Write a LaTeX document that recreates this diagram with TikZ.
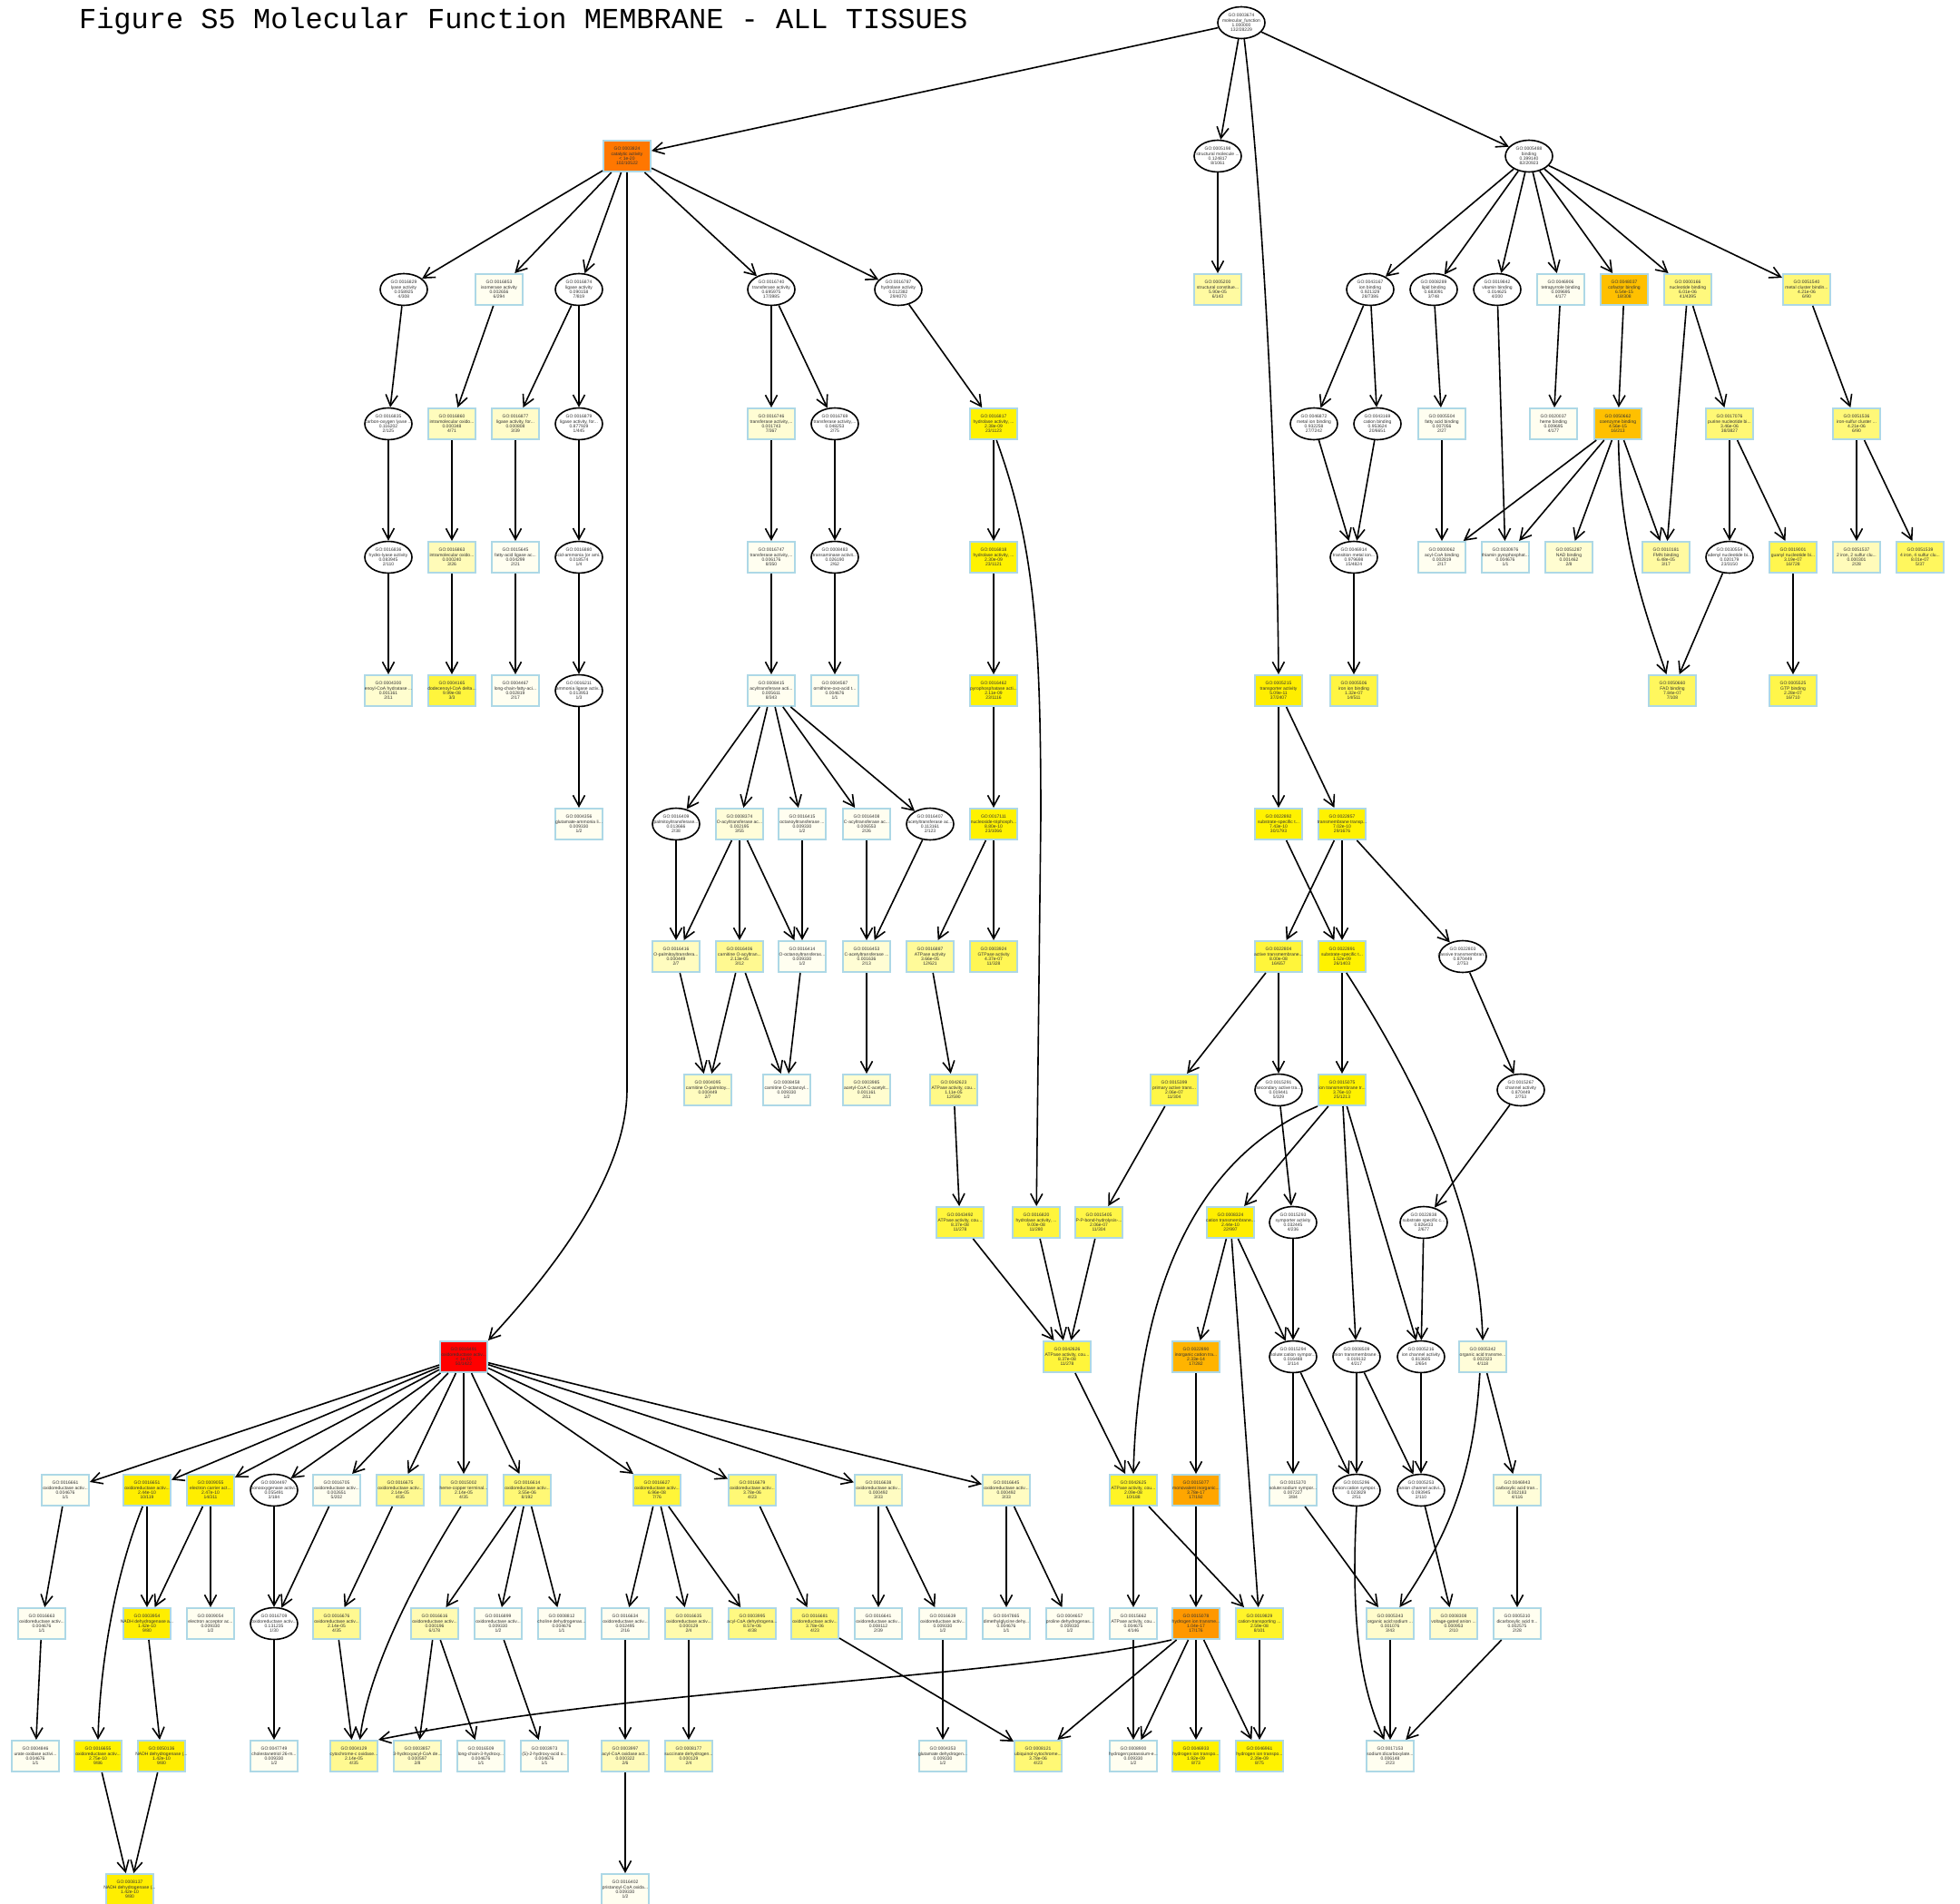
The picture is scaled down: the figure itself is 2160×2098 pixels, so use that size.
\documentclass[tikz,border=0pt]{standalone}
\usepackage{fontspec}
\setmainfont{Liberation Sans}
\newfontfamily\titlefont{Liberation Mono}
\usetikzlibrary{arrows.meta,shapes.geometric}

\definecolor{goblue}{HTML}{ADD8E6}
\definecolor{gogold}{HTML}{FFEE00}
\definecolor{goamber}{HTML}{FFC000}
\definecolor{goambertwo}{HTML}{FFB400}
\definecolor{gomono}{HTML}{FFA600}
\definecolor{gohydro}{HTML}{FF9800}
\definecolor{gocat}{HTML}{FF7700}
\definecolor{gored}{HTML}{FF0000}
\newcommand{\gofont}{\fontsize{2.5}{2.65}\selectfont}

\tikzset{
  gotext/.style={font=\gofont, align=center, text=black!80},
  gobox/.style={rectangle, draw=goblue, line width=1pt, fill=yellow!#1!white,
    minimum width=26pt, minimum height=17pt, inner xsep=-5pt, inner ysep=0pt, gotext},
  goell/.style={ellipse, draw=black, line width=0.8pt, fill=white,
    minimum width=26pt, minimum height=17.5pt, inner xsep=-4.5pt, inner ysep=0.2pt, gotext},
  goarrow/.style={-{Straight Barb[length=6pt,width=6.5pt]}, line width=0.8pt}
}

\begin{document}
\begin{tikzpicture}[x=0.5pt,y=-0.5pt]
\useasboundingbox (0,0) rectangle (2160,2098);
\fill[white] (0,0) rectangle (2160,2098);

\node[anchor=base west, font=\titlefont\fontsize{16}{18}\selectfont] (title) at (80,32) {Figure S5 Molecular Function MEMBRANE - ALL TISSUES};

% level 0 and 1
\node[goell] (n3674) at (1368,25) {GO:0003674\\molecular\_function\\1.000000\\132/28229};
\node[gobox=100, fill=gocat] (n3824) at (691,172) {GO:0003824\\catalytic activity\\< 1e-20\\102/10522};
\node[goell] (n5198) at (1342,172) {GO:0005198\\structural molecule ...\\0.124817\\8/1061};
\node[goell] (n5488) at (1685,172) {GO:0005488\\binding\\0.399140\\82/20923};

% level 2
\node[goell] (n16829) at (445,319) {GO:0016829\\lyase activity\\0.058925\\4/308};
\node[gobox=6] (n16853) at (550,319) {GO:0016853\\isomerase activity\\0.002656\\6/294};
\node[goell] (n16874) at (638,319) {GO:0016874\\ligase activity\\0.090158\\7/819};
\node[goell] (n16740) at (850,319) {GO:0016740\\transferase activity\\0.695975\\17/3985};
\node[goell] (n16787) at (990,319) {GO:0016787\\hydrolase activity\\0.012382\\29/4070};
\node[gobox=37] (n5200) at (1342,319) {GO:0005200\\structural constitue...\\5.90e-05\\6/143};
\node[goell] (n43167) at (1510,319) {GO:0043167\\ion binding\\0.921329\\28/7386};
\node[goell] (n8289) at (1580,319) {GO:0008289\\lipid binding\\0.683091\\3/748};
\node[goell] (n19842) at (1650,319) {GO:0019842\\vitamin binding\\0.014625\\4/200};
\node[gobox=6] (n46906) at (1720,319) {GO:0046906\\tetrapyrrole binding\\0.009695\\4/177};
\node[gobox=100, fill=goamber] (n48037) at (1790,319) {GO:0048037\\cofactor binding\\6.54e-15\\18/308};
\node[gobox=51] (n166) at (1860,319) {GO:0000166\\nucleotide binding\\6.01e-06\\41/4395};
\node[gobox=53] (n51540) at (1991,319) {GO:0051540\\metal cluster bindin...\\4.21e-06\\6/90};

% level 3
\node[goell] (n16835) at (428,467) {GO:0016835\\carbon-oxygen lyase ...\\0.116202\\2/125};
\node[gobox=26] (n16860) at (498,467) {GO:0016860\\intramolecular oxido...\\0.000348\\4/71};
\node[gobox=21] (n16877) at (568,467) {GO:0016877\\ligase activity, for...\\0.000808\\3/39};
\node[goell] (n16879) at (638,467) {GO:0016879\\ligase activity, for...\\0.877929\\1/445};
\node[gobox=17] (n16746) at (850,467) {GO:0016746\\transferase activity,...\\0.001743\\7/367};
\node[goell] (n16769) at (920,467) {GO:0016769\\transferase activity,...\\0.048253\\2/75};
\node[gobox=100] (n16817) at (1095,467) {GO:0016817\\hydrolase activity, ...\\2.38e-09\\23/1123};
\node[goell] (n46872) at (1448,467) {GO:0046872\\metal ion binding\\0.932258\\27/7242};
\node[goell] (n43169) at (1518,467) {GO:0043169\\cation binding\\0.953624\\20/6651};
\node[gobox=6] (n5504) at (1589,467) {GO:0005504\\fatty acid binding\\0.007056\\2/27};
\node[gobox=6] (n20037) at (1712,467) {GO:0020037\\heme binding\\0.009695\\4/177};
\node[gobox=100, fill=goamber] (n50662) at (1783,467) {GO:0050662\\coenzyme binding\\4.56e-15\\16/213};
\node[gobox=54] (n17076) at (1906,467) {GO:0017076\\purine nucleotide bi...\\3.46e-06\\38/3827};
\node[gobox=53] (n51536) at (2046,467) {GO:0051536\\iron-sulfur cluster ...\\4.21e-06\\6/90};

% level 4
\node[goell] (n16836) at (428,614) {GO:0016836\\hydro-lyase activity\\0.083945\\2/110};
\node[gobox=28] (n16863) at (498,614) {GO:0016863\\intramolecular oxido...\\0.000240\\3/26};
\node[gobox=6] (n15645) at (568,614) {GO:0015645\\fatty-acid ligase ac...\\0.004299\\2/21};
\node[goell] (n16880) at (638,614) {GO:0016880\\acid-ammonia (or ami...\\0.018574\\1/4};
\node[gobox=6] (n16747) at (850,614) {GO:0016747\\transferase activity,...\\0.006176\\8/350};
\node[goell] (n8483) at (920,614) {GO:0008483\\transaminase activit...\\0.026190\\2/62};
\node[gobox=100] (n16818) at (1095,614) {GO:0016818\\hydrolase activity, ...\\2.30e-09\\23/1121};
\node[goell] (n46914) at (1492,614) {GO:0046914\\transition metal ion...\\0.979698\\15/4824};
\node[gobox=6] (n62) at (1589,614) {GO:0000062\\acyl-CoA binding\\0.002819\\2/17};
\node[gobox=6] (n30976) at (1659,614) {GO:0030976\\thiamin pyrophosphat...\\0.004676\\1/1};
\node[gobox=18] (n51287) at (1729,614) {GO:0051287\\NAD binding\\0.001462\\2/8};
\node[gobox=37] (n10181) at (1836,614) {GO:0010181\\FMN binding\\6.48e-05\\3/17};
\node[goell] (n30554) at (1906,614) {GO:0030554\\adenyl nucleotide bi...\\0.020179\\23/3150};
\node[gobox=69] (n19001) at (1976,614) {GO:0019001\\guanyl nucleotide bi...\\3.19e-07\\16/728};
\node[gobox=27] (n51537) at (2046,614) {GO:0051537\\2 iron, 2 sulfur clu...\\0.000301\\2/28};
\node[gobox=63] (n51539) at (2116,614) {GO:0051539\\4 iron, 4 sulfur clu...\\8.01e-07\\5/37};

% level 5
\node[gobox=19] (n4300) at (428,761) {GO:0004300\\enoyl-CoA hydratase ...\\0.001161\\2/11};
\node[gobox=76] (n4165) at (498,761) {GO:0004165\\dodecenoyl-CoA delta...\\9.99e-08\\3/3};
\node[gobox=6] (n4467) at (568,761) {GO:0004467\\long-chain-fatty-aci...\\0.002819\\2/17};
\node[goell] (n16211) at (638,761) {GO:0016211\\ammonia ligase activ...\\0.013953\\1/3};
\node[gobox=6] (n8415) at (850,761) {GO:0008415\\acyltransferase acti...\\0.005611\\8/343};
\node[gobox=6] (n4587) at (920,761) {GO:0004587\\ornithine-oxo-acid t...\\0.004676\\1/1};
\node[gobox=100] (n16462) at (1095,761) {GO:0016462\\pyrophosphatase acti...\\2.11e-09\\23/1116};
\node[gobox=100, fill=gogold] (n5215) at (1409,761) {GO:0005215\\transporter activity\\5.09e-11\\37/2407};
\node[gobox=74] (n5506) at (1492,761) {GO:0005506\\iron ion binding\\1.32e-07\\14/511};
\node[gobox=63] (n50660) at (1843,761) {GO:0050660\\FAD binding\\7.84e-07\\7/108};
\node[gobox=71] (n5525) at (1976,761) {GO:0005525\\GTP binding\\2.28e-07\\16/710};

% level 6
\node[gobox=6] (n4356) at (638,908) {GO:0004356\\glutamate-ammonia li...\\0.009330\\1/2};
\node[goell] (n16409) at (745,908) {GO:0016409\\palmitoyltransferase...\\0.013666\\2/38};
\node[gobox=15] (n8374) at (815,908) {GO:0008374\\O-acyltransferase ac...\\0.002195\\3/55};
\node[gobox=6] (n16415) at (884,908) {GO:0016415\\octanoyltransferase ...\\0.009330\\1/2};
\node[gobox=6] (n16408) at (955,908) {GO:0016408\\C-acyltransferase ac...\\0.006553\\2/26};
\node[goell] (n16407) at (1025,908) {GO:0016407\\acetyltransferase ac...\\0.113161\\2/123};
\node[gobox=100] (n17111) at (1095,908) {GO:0017111\\nucleoside-triphosph...\\8.80e-10\\23/1066};
\node[gobox=100] (n22892) at (1409,908) {GO:0022892\\substrate-specific t...\\7.43e-10\\30/1793};
\node[gobox=100] (n22857) at (1479,908) {GO:0022857\\transmembrane transp...\\7.02e-10\\29/1676};

% level 7
\node[gobox=25] (n16416) at (745,1054) {GO:0016416\\O-palmitoyltransfera...\\0.000449\\2/7};
\node[gobox=43] (n16406) at (815,1054) {GO:0016406\\carnitine O-acyltran...\\2.13e-05\\3/12};
\node[gobox=6] (n16414) at (884,1054) {GO:0016414\\O-octanoyltransferas...\\0.009330\\1/2};
\node[gobox=17] (n16453) at (955,1054) {GO:0016453\\C-acetyltransferase ...\\0.001636\\2/13};
\node[gobox=40] (n16887) at (1025,1054) {GO:0016887\\ATPase activity\\3.66e-05\\12/621};
\node[gobox=67] (n3924) at (1095,1054) {GO:0003924\\GTPase activity\\4.37e-07\\11/328};
\node[gobox=77] (n22804) at (1409,1054) {GO:0022804\\active transmembrane...\\8.00e-08\\16/657};
\node[gobox=100] (n22891) at (1479,1054) {GO:0022891\\substrate-specific t...\\1.52e-09\\26/1403};
\node[goell] (n22803) at (1612,1054) {GO:0022803\\passive transmembran...\\0.870449\\2/753};

% level 8
\node[gobox=25] (n4095) at (780,1201) {GO:0004095\\carnitine O-palmitoy...\\0.000449\\2/7};
\node[gobox=6] (n8458) at (867,1201) {GO:0008458\\carnitine O-octanoyl...\\0.009330\\1/2};
\node[gobox=19] (n3985) at (955,1201) {GO:0003985\\acetyl-CoA C-acetylt...\\0.001161\\2/11};
\node[gobox=47] (n42623) at (1051,1201) {GO:0042623\\ATPase activity, cou...\\1.11e-05\\12/590};
\node[gobox=72] (n15399) at (1294,1201) {GO:0015399\\primary active trans...\\2.06e-07\\11/304};
\node[goell] (n15291) at (1409,1201) {GO:0015291\\secondary active tra...\\0.019441\\5/329};
\node[gobox=100] (n15075) at (1479,1201) {GO:0015075\\ion transmembrane tr...\\3.76e-10\\25/1213};
\node[goell] (n15267) at (1676,1201) {GO:0015267\\channel activity\\0.870449\\2/753};

% level 9
\node[gobox=77] (n43492) at (1058,1347) {GO:0043492\\ATPase activity, cou...\\8.37e-08\\11/278};
\node[gobox=77] (n16820) at (1142,1347) {GO:0016820\\hydrolase activity, ...\\9.00e-08\\11/280};
\node[gobox=72] (n15405) at (1211,1347) {GO:0015405\\P-P-bond-hydrolysis-...\\2.06e-07\\11/304};
\node[gobox=100, fill=gogold] (n8324) at (1356,1347) {GO:0008324\\cation transmembrane...\\2.44e-10\\22/997};
\node[goell] (n15293) at (1425,1347) {GO:0015293\\symporter activity\\0.032445\\4/236};
\node[goell] (n22838) at (1569,1347) {GO:0022838\\substrate specific c...\\0.826433\\2/677};

% level 10
\node[gobox=100, fill=gored] (n16491) at (511,1495) {GO:0016491\\oxidoreductase activ...\\< 1e-20\\50/1422};
\node[gobox=77] (n42626) at (1176,1495) {GO:0042626\\ATPase activity, cou...\\8.37e-08\\11/278};
\node[gobox=100, fill=goambertwo] (n22890) at (1318,1495) {GO:0022890\\inorganic cation tra...\\2.33e-14\\17/282};
\node[goell] (n15294) at (1425,1495) {GO:0015294\\solute:cation sympor...\\0.016488\\3/114};
\node[goell] (n8509) at (1495,1495) {GO:0008509\\anion transmembrane ...\\0.019132\\4/217};
\node[goell] (n5216) at (1566,1495) {GO:0005216\\ion channel activity\\0.813605\\2/654};
\node[gobox=15] (n5342) at (1634,1495) {GO:0005342\\organic acid transme...\\0.002323\\4/118};

% level 11
\node[gobox=6] (n16661) at (72,1642) {GO:0016661\\oxidoreductase activ...\\0.004676\\1/1};
\node[gobox=100, fill=gogold] (n16651) at (162,1642) {GO:0016651\\oxidoreductase activ...\\2.44e-10\\10/119};
\node[gobox=100, fill=gogold] (n9055) at (232,1642) {GO:0009055\\electron carrier act...\\2.47e-10\\14/311};
\node[goell] (n4497) at (302,1642) {GO:0004497\\monooxygenase activi...\\0.055491\\3/184};
\node[gobox=6] (n16705) at (371,1642) {GO:0016705\\oxidoreductase activ...\\0.002651\\5/202};
\node[gobox=43] (n16675) at (441,1642) {GO:0016675\\oxidoreductase activ...\\2.14e-05\\4/35};
\node[gobox=43] (n15002) at (511,1642) {GO:0015002\\heme-copper terminal...\\2.14e-05\\4/35};
\node[gobox=54] (n16614) at (581,1642) {GO:0016614\\oxidoreductase activ...\\3.55e-06\\8/192};
\node[gobox=78] (n16627) at (724,1642) {GO:0016627\\oxidoreductase activ...\\6.96e-08\\7/76};
\node[gobox=54] (n16679) at (829,1642) {GO:0016679\\oxidoreductase activ...\\3.78e-06\\4/23};
\node[gobox=24] (n16638) at (968,1642) {GO:0016638\\oxidoreductase activ...\\0.000492\\3/33};
\node[gobox=24] (n16645) at (1109,1642) {GO:0016645\\oxidoreductase activ...\\0.000492\\3/33};
\node[gobox=85] (n42625) at (1249,1642) {GO:0042625\\ATPase activity, cou...\\2.09e-08\\10/188};
\node[gobox=100, fill=gomono] (n15077) at (1318,1642) {GO:0015077\\monovalent inorganic...\\3.78e-17\\17/192};
\node[gobox=6] (n15370) at (1425,1642) {GO:0015370\\solute:sodium sympor...\\0.007227\\3/84};
\node[goell] (n15296) at (1495,1642) {GO:0015296\\anion:cation sympor...\\0.023829\\2/51};
\node[goell] (n5253) at (1566,1642) {GO:0005253\\anion channel activi...\\0.093945\\2/110};
\node[gobox=15] (n46943) at (1672,1642) {GO:0046943\\carboxylic acid tran...\\0.002183\\4/116};

% level 12
\node[gobox=6] (n16663) at (46,1789) {GO:0016663\\oxidoreductase activ...\\0.004676\\1/1};
\node[gobox=100, fill=gogold] (n3954) at (162,1789) {GO:0003954\\NADH dehydrogenase a...\\1.42e-10\\9/80};
\node[gobox=6] (n9054) at (232,1789) {GO:0009054\\electron acceptor ac...\\0.009330\\1/2};
\node[goell] (n16709) at (302,1789) {GO:0016709\\oxidoreductase activ...\\0.131235\\1/30};
\node[gobox=43] (n16676) at (371,1789) {GO:0016676\\oxidoreductase activ...\\2.14e-05\\4/35};
\node[gobox=30] (n16616) at (479,1789) {GO:0016616\\oxidoreductase activ...\\0.000196\\6/178};
\node[gobox=6] (n16899) at (549,1789) {GO:0016899\\oxidoreductase activ...\\0.009330\\1/2};
\node[gobox=6] (n8812) at (619,1789) {GO:0008812\\choline dehydrogenas...\\0.004676\\1/1};
\node[gobox=6] (n16634) at (689,1789) {GO:0016634\\oxidoreductase activ...\\0.002495\\2/16};
\node[gobox=32] (n16635) at (759,1789) {GO:0016635\\oxidoreductase activ...\\0.000129\\2/4};
\node[gobox=49] (n3995) at (829,1789) {GO:0003995\\acyl-CoA dehydrogena...\\8.57e-06\\4/38};
\node[gobox=54] (n16681) at (898,1789) {GO:0016681\\oxidoreductase activ...\\3.78e-06\\4/23};
\node[gobox=6] (n16641) at (968,1789) {GO:0016641\\oxidoreductase activ...\\0.008112\\2/39};
\node[gobox=6] (n16639) at (1039,1789) {GO:0016639\\oxidoreductase activ...\\0.009330\\1/2};
\node[gobox=6] (n47865) at (1109,1789) {GO:0047865\\dimethylglycine dehy...\\0.004676\\1/1};
\node[gobox=6] (n4657) at (1179,1789) {GO:0004657\\proline dehydrogenas...\\0.009330\\1/2};
\node[gobox=6] (n15662) at (1249,1789) {GO:0015662\\ATPase activity, cou...\\0.004675\\4/146};
\node[gobox=100, fill=gohydro] (n15078) at (1318,1789) {GO:0015078\\hydrogen ion transme...\\1.04e-17\\17/176};
\node[gobox=84] (n19829) at (1388,1789) {GO:0019829\\cation-transporting ...\\2.59e-08\\8/101};
\node[gobox=20] (n5343) at (1532,1789) {GO:0005343\\organic acid:sodium ...\\0.001076\\3/43};
\node[gobox=20] (n8308) at (1602,1789) {GO:0008308\\voltage-gated anion ...\\0.000953\\2/10};
\node[gobox=6] (n5310) at (1672,1789) {GO:0005310\\dicarboxylic acid tr...\\0.002575\\2/28};

% level 13
\node[gobox=6] (n4846) at (39,1935) {GO:0004846\\urate oxidase activi...\\0.004676\\1/1};
\node[gobox=100] (n16655) at (108,1935) {GO:0016655\\oxidoreductase activ...\\2.75e-10\\9/86};
\node[gobox=100, fill=gogold] (n50136) at (178,1935) {GO:0050136\\NADH dehydrogenase (...\\1.42e-10\\9/80};
\node[gobox=6] (n47749) at (302,1935) {GO:0047749\\cholestanetriol 26-m...\\0.009330\\1/2};
\node[gobox=43] (n4129) at (390,1935) {GO:0004129\\cytochrome-c oxidase...\\2.14e-05\\4/35};
\node[gobox=23] (n3857) at (460,1935) {GO:0003857\\3-hydroxyacyl-CoA de...\\0.000597\\2/8};
\node[gobox=6] (n16509) at (530,1935) {GO:0016509\\long-chain-3-hydroxy...\\0.004676\\1/1};
\node[gobox=6] (n3973) at (600,1935) {GO:0003973\\(S)-2-hydroxy-acid o...\\0.004676\\1/1};
\node[gobox=27] (n3997) at (689,1935) {GO:0003997\\acyl-CoA oxidase act...\\0.000322\\2/6};
\node[gobox=32] (n8177) at (759,1935) {GO:0008177\\succinate dehydrogen...\\0.000129\\2/4};
\node[gobox=6] (n4353) at (1039,1935) {GO:0004353\\glutamate dehydrogen...\\0.009330\\1/2};
\node[gobox=54] (n8121) at (1144,1935) {GO:0008121\\ubiquinol-cytochrome...\\3.78e-06\\4/23};
\node[gobox=6] (n8900) at (1249,1935) {GO:0008900\\hydrogen:potassium-e...\\0.009330\\1/2};
\node[gobox=100] (n46933) at (1318,1935) {GO:0046933\\hydrogen ion transpo...\\1.92e-09\\8/73};
\node[gobox=100] (n46961) at (1388,1935) {GO:0046961\\hydrogen ion transpo...\\2.39e-09\\8/75};
\node[gobox=6] (n17153) at (1532,1935) {GO:0017153\\sodium:dicarboxylate...\\0.006148\\2/23};

% level 14
\node[gobox=100, fill=gogold] (n8137) at (143,2082) {GO:0008137\\NADH dehydrogenase (...\\1.42e-10\\9/80};
\node[gobox=6] (n16402) at (689,2082) {GO:0016402\\pristanoyl-CoA oxida...\\0.009330\\1/2};

% straight edges
\foreach \a/\b in {3674/3824, 3674/5198, 3674/5488,
  3824/16829, 3824/16853, 3824/16874, 3824/16740, 3824/16787, 5198/5200,
  5488/43167, 5488/8289, 5488/19842, 5488/46906, 5488/48037, 5488/166, 5488/51540,
  16829/16835, 16835/16836, 16836/4300, 16853/16860, 16860/16863, 16863/4165,
  16874/16877, 16874/16879, 16877/15645, 15645/4467, 16879/16880, 16880/16211, 16211/4356,
  16740/16746, 16740/16769, 16746/16747, 16747/8415, 16769/8483, 8483/4587,
  16787/16817, 16817/16818, 16818/16462, 16462/17111, 17111/16887, 17111/3924,
  16887/42623, 42623/43492, 43492/42626, 16820/42626, 15405/42626, 42626/42625,
  43167/46872, 43167/43169, 46872/46914, 43169/46914, 46914/5506,
  8289/5504, 5504/62, 19842/30976, 46906/20037, 48037/50662,
  50662/62, 50662/30976, 50662/51287, 50662/10181,
  166/10181, 166/17076, 17076/30554, 17076/19001, 30554/50660, 19001/5525,
  51540/51536, 51536/51537, 51536/51539,
  8415/16409, 8415/8374, 8415/16415, 8415/16408, 8415/16407,
  16409/16416, 8374/16416, 8374/16406, 8374/16414, 16415/16414, 16408/16453, 16407/16453,
  16416/4095, 16406/4095, 16406/8458, 16414/8458, 16453/3985,
  5215/22892, 5215/22857, 22892/22891, 22857/22804, 22857/22891, 22857/22803,
  22804/15399, 22804/15291, 22891/15075, 22803/15267,
  15399/15405, 15291/15293, 15075/8324, 15075/8509, 15075/5216, 15267/22838,
  8324/22890, 8324/19829, 8324/15294, 15293/15294, 22838/5216,
  22890/15077, 15294/15370, 15294/15296, 8509/15296, 8509/5253, 5216/5253, 5342/46943,
  42625/15662, 42625/19829, 15077/15078, 15370/5343, 5253/8308, 46943/5310,
  15078/8121, 15078/8900, 15078/46933, 15078/46961, 15662/8900, 19829/46961,
  5343/17153, 5310/17153,
  16491/16661, 16491/16651, 16491/9055, 16491/4497, 16491/16705, 16491/16675,
  16491/15002, 16491/16614, 16491/16627, 16491/16679, 16491/16638, 16491/16645,
  16661/16663, 16663/4846, 16651/3954, 9055/3954, 9055/9054, 4497/16709, 16705/16709, 16709/47749,
  16675/16676, 16676/4129, 16614/16616, 16614/16899, 16614/8812, 16616/3857, 16616/16509, 16899/3973,
  16627/16634, 16627/16635, 16627/3995, 16634/3997, 3997/16402, 16635/8177,
  16679/16681, 16681/8121, 16638/16641, 16638/16639, 16639/4353, 16645/47865, 16645/4657,
  3954/50136, 16655/8137, 50136/8137}
  \draw[goarrow] (n\a) -- (n\b);

% curved edges
\draw[goarrow] (n3824.south) -- (691,1200) .. controls (691,1300) and (600,1410) .. (n16491.north east);
\draw[goarrow] (n3674.-80) .. controls (1390,200) and (1407,500) .. (n5215.north);
\draw[goarrow] (n16817.-80) .. controls (1140,600) and (1147,700) .. (1147,900) -- (n16820);
\draw[goarrow] (n15075.south west) .. controls (1330,1270) and (1255,1400) .. (n42625.north);
\draw[goarrow] (n22891.-75) .. controls (1560,1190) and (1630,1330) .. (n5342.north);
\draw[goarrow] (n15078.south west) .. controls (1100,1850) and (700,1860) .. (n4129.north east);
\draw[goarrow] (n16651.-105) .. controls (125,1740) and (110,1840) .. (n16655.north);
\draw[goarrow] (n15002.-100) .. controls (445,1760) and (405,1850) .. (n4129.70);
\draw[goarrow] (n50662.-88) .. controls (1785,600) and (1815,680) .. (n50660.110);
\draw[goarrow] (n15296.south) .. controls (1488,1790) and (1500,1860) .. (n17153.110);
\draw[goarrow] (n5342.-100) .. controls (1625,1610) and (1605,1680) .. (n5343.60);
\end{tikzpicture}
\end{document}
